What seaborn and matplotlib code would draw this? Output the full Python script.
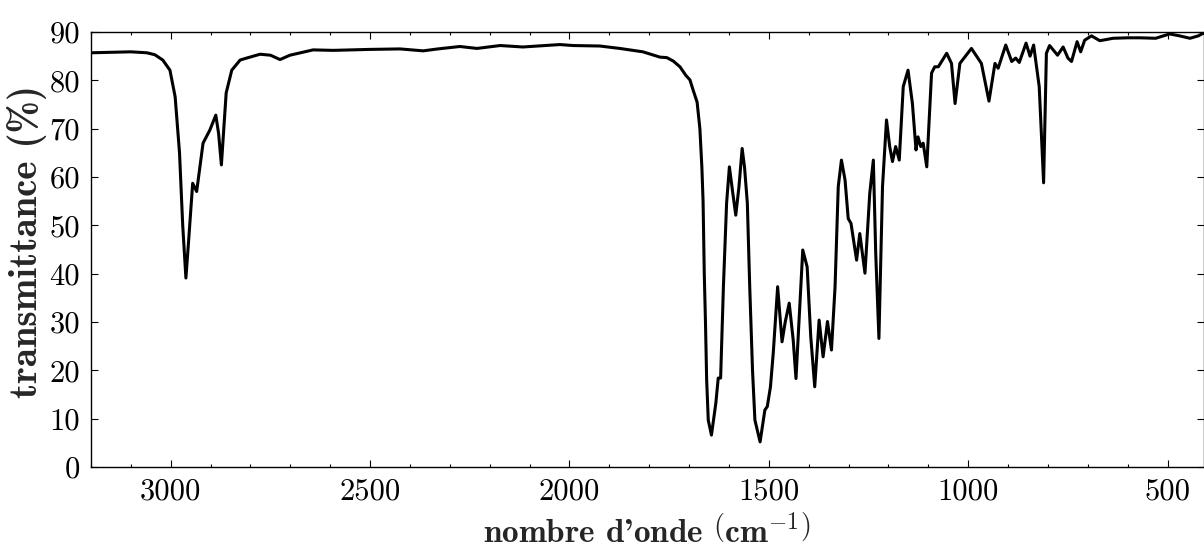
import matplotlib
matplotlib.use("Agg")
import matplotlib.pyplot as plt
from matplotlib.ticker import MultipleLocator
import seaborn as sns
import pandas as pd

wavenumber = [3200, 3150, 3100, 3060, 3040, 3020, 3002, 2989, 2978, 2970, 2962, 2955, 2945, 2935,
              2927, 2919, 2902, 2887, 2880, 2873, 2867, 2861, 2847, 2826, 2810, 2776, 2750, 2726,
              2701, 2643, 2593, 2500, 2425, 2367, 2330, 2275, 2232, 2174, 2117, 2060, 2024, 1991,
              1924, 1874, 1816, 1773, 1756, 1740, 1723, 1708, 1698, 1690, 1680, 1673, 1668, 1665,
              1662, 1659, 1656, 1652, 1644, 1633, 1627, 1621, 1614, 1606, 1599, 1591, 1583, 1575,
              1567, 1561, 1554, 1548, 1541, 1535, 1522, 1510, 1504, 1496, 1489, 1478, 1467, 1459,
              1449, 1439, 1432, 1415, 1404, 1395, 1385, 1374, 1364, 1353, 1343, 1334, 1326, 1318,
              1309, 1301, 1294, 1280, 1272, 1259, 1247, 1238, 1232, 1224, 1215, 1205, 1197, 1190,
              1182, 1173, 1163, 1151, 1140, 1131, 1126, 1119, 1113, 1104, 1092, 1084, 1075, 1054,
              1042, 1033, 1021, 992, 967, 948, 933, 925, 906, 891, 881, 872, 855, 845, 836, 822,
              811, 804, 796, 776, 762, 750, 741, 727, 718, 708, 691, 670, 637, 600, 570, 530, 495,
              470, 444, 423, 412, 400]
transmittance = [85.7, 85.8, 85.9, 85.7, 85.3, 84.2, 82.1, 76.6, 65.0, 50.0, 39.1, 47.0, 58.7, 57.0,
                 62.0, 67.0, 69.7, 72.8, 69.0, 62.5, 70.0, 77.4, 82.1, 84.2, 84.6, 85.4, 85.2, 84.3,
                 85.2, 86.3, 86.2, 86.4, 86.5, 86.1, 86.5, 87.0, 86.6, 87.2, 86.9, 87.2, 87.4, 87.2,
                 87.1, 86.6, 85.9, 84.8, 84.7, 84.0, 82.8, 81.0, 80.1, 78.0, 75.5, 70.0, 62.0, 55.0,
                 40.0, 30.0, 18.0, 9.7, 6.6, 13.2, 18.4, 18.4, 37.3, 54.6, 62.1, 57.0, 52.1, 58.0,
                 65.9, 62.0, 54.6, 37.3, 20.0, 9.7, 5.2, 11.8, 12.5, 16.6, 23.6, 37.3, 25.9, 30.0,
                 33.9, 26.3, 18.3, 44.9, 41.4, 27.0, 16.6, 30.4, 22.8, 30.1, 24.2, 37.3, 58.0, 63.5,
                 59.4, 51.4, 50.4, 42.8, 48.3, 40.1, 56.6, 63.5, 44.2, 26.6, 58.0, 71.8, 66.3, 63.2,
                 66.3, 63.5, 78.7, 82.1, 75.2, 65.6, 68.3, 66.3, 67.0, 62.1, 81.5, 82.8, 82.8, 85.6,
                 83.5, 75.2, 83.5, 86.6, 83.5, 75.7, 83.5, 82.5, 87.3, 83.9, 84.6, 83.7, 87.7, 85.0,
                 87.3, 78.7, 58.8, 85.6, 87.2, 85.2, 86.9, 84.6, 83.9, 88.0, 85.9, 88.3, 89.2, 88.2,
                 88.7, 88.8, 88.8, 88.7, 89.6, 89.2, 88.7, 89.2, 89.7, 89.7]

xticks = [3000, 2500, 2000, 1500, 1000, 500]
yticks = [0, 10, 20, 30, 40, 50, 60, 70, 80, 90]

sns.set_style("ticks")
plt.rcParams.update({
    "font.family": "serif",
    "font.serif": ["cmr10"],
    "mathtext.fontset": "cm",
    "axes.formatter.use_mathtext": True,
    "axes.unicode_minus": False,
})

df = pd.DataFrame({"wavenumber": wavenumber, "transmittance": transmittance})

fig = plt.figure(figsize=(12.04, 5.5), dpi=100)
ax = fig.add_axes([91 / 1204, (550 - 467) / 550, (1203.5 - 91) / 1204, (467 - 32) / 550])
sns.lineplot(data=df, x="wavenumber", y="transmittance", ax=ax, color="black",
             linewidth=2.2, sort=False, estimator=None)

ax.set_xlim(3200, 410)
ax.set_ylim(0, 90)
ax.set_xticks(xticks)
ax.set_xticklabels([str(t) for t in xticks])
ax.set_yticks(yticks)
ax.set_yticklabels([str(t) for t in yticks])
ax.xaxis.set_minor_locator(MultipleLocator(100))
ax.tick_params(axis="both", which="both", direction="in", top=True, right=True,
               labelsize=22, width=0.8, colors="black")
ax.tick_params(axis="x", which="major", length=5, pad=8)
ax.tick_params(axis="y", which="major", length=5, pad=8)
ax.tick_params(axis="both", which="minor", length=2.5)
for s in ax.spines.values():
    s.set_linewidth(1.0)
    s.set_color("black")

ax.set_xlabel(r"nombre d'onde $\left(\mathbf{cm}^{-\mathbf{1}}\right)$", fontsize=24,
              family="cmb10")
ax.set_ylabel("transmittance (%)", fontsize=28, family="cmb10")
ax.xaxis.set_label_coords(0.5, -(540 - 467 + 2) / 435)
ax.xaxis.label.set_va("baseline")
ax.yaxis.set_label_coords((47 - 91) / 1112.5, (467 - 242) / 435)

fig.savefig("out.png", dpi=100)
